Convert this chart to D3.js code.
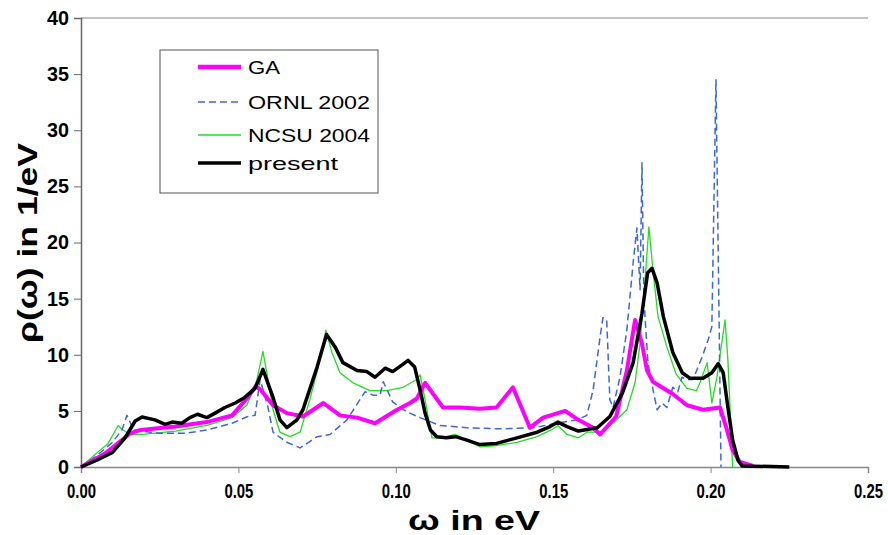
<!DOCTYPE html>
<html>
<head>
<meta charset="utf-8">
<script src="https://cdn.jsdelivr.net/npm/d3@7"></script>
<style>
  body { margin: 0; background: #fff; }
  svg { display: block; }
</style>
</head>
<body>
<div id="chart"></div>
<script>
// data: [omega in eV, rho in 1/eV]
const gaData = [[0,0],[0.0076,1.2],[0.013,2.4],[0.0156,3.0],[0.019,3.3],[0.030,3.6],[0.040,4.0],[0.048,4.6],[0.053,6.2],[0.0555,7.2],[0.057,6.9],[0.061,5.5],[0.0654,4.8],[0.0705,4.5],[0.077,5.7],[0.0823,4.6],[0.0877,4.4],[0.0934,3.9],[0.1004,5.1],[0.1045,5.7],[0.1067,6.1],[0.1093,7.5],[0.115,5.3],[0.1204,5.3],[0.1267,5.2],[0.132,5.3],[0.1372,7.1],[0.1426,3.5],[0.1468,4.4],[0.1538,5.0],[0.158,4.2],[0.1627,3.5],[0.1649,2.9],[0.170,4.5],[0.1734,8.6],[0.176,13.1],[0.1782,11.0],[0.1798,8.6],[0.1817,7.6],[0.188,6.5],[0.1925,5.5],[0.1976,5.1],[0.203,5.3],[0.2052,3.3],[0.207,1.5],[0.2093,0.45],[0.2135,0.1]];

const ornlData = [[0,0],[0.005,1.0],[0.010,2.2],[0.013,3.3],[0.0146,4.6],[0.0156,4.0],[0.0165,3.3],[0.0245,3.0],[0.033,3.0],[0.040,3.3],[0.048,3.9],[0.053,4.5],[0.0553,4.6],[0.0569,7.8],[0.0594,5.3],[0.061,3.1],[0.0654,2.2],[0.0696,1.7],[0.075,2.7],[0.0791,2.9],[0.0845,4.2],[0.0886,6.0],[0.0902,6.7],[0.0928,6.4],[0.095,6.4],[0.096,7.6],[0.0972,6.9],[0.099,5.8],[0.1036,4.9],[0.1077,4.4],[0.114,3.7],[0.1226,3.5],[0.1331,3.4],[0.1436,3.5],[0.1512,3.9],[0.1576,4.2],[0.1607,4.6],[0.1627,6.9],[0.1649,11.6],[0.1658,13.3],[0.167,13.1],[0.168,6.0],[0.169,5.3],[0.1712,8.0],[0.1734,12.2],[0.1754,18.2],[0.1766,21.3],[0.1776,15.8],[0.1782,27.1],[0.1788,15.0],[0.1801,9.3],[0.1817,6.9],[0.183,5.1],[0.1846,5.7],[0.1861,5.3],[0.188,7.1],[0.1896,6.7],[0.1909,8.0],[0.1925,7.8],[0.1944,7.8],[0.1973,9.8],[0.1992,11.3],[0.2004,12.5],[0.2017,34.5],[0.203,6.6],[0.2033,0]];

const ncsuData = [[0,0],[0.0044,1.1],[0.0086,2.1],[0.0118,3.7],[0.0133,3.3],[0.0156,2.9],[0.0194,2.9],[0.030,3.2],[0.040,3.7],[0.048,4.4],[0.0527,5.5],[0.0559,7.8],[0.0578,10.3],[0.0594,7.8],[0.061,5.1],[0.0632,3.1],[0.0664,2.7],[0.0696,3.1],[0.0727,6.0],[0.0759,9.5],[0.0778,12.2],[0.0797,10.2],[0.0823,8.4],[0.0864,7.5],[0.0918,6.8],[0.0972,6.8],[0.1023,7.1],[0.1067,7.8],[0.1077,8.2],[0.1093,6.0],[0.1115,2.6],[0.115,2.6],[0.1188,2.9],[0.1226,2.4],[0.1267,1.8],[0.132,1.9],[0.1385,2.2],[0.1449,2.7],[0.150,3.4],[0.1515,3.7],[0.1544,2.9],[0.158,2.6],[0.1607,3.1],[0.165,3.1],[0.169,3.9],[0.1734,5.1],[0.176,7.5],[0.1776,11.0],[0.1792,16.7],[0.1804,21.4],[0.1817,17.5],[0.1833,13.4],[0.1861,10.7],[0.189,8.3],[0.1925,7.0],[0.1955,6.8],[0.1966,7.5],[0.1989,9.3],[0.2004,5.7],[0.202,8.0],[0.2046,13.1],[0.2055,9.5],[0.2062,5.1],[0.207,0]];

const presentData = [[0,0],[0.005,0.6],[0.010,1.3],[0.014,2.6],[0.0172,4.1],[0.0194,4.45],[0.0235,4.2],[0.0267,3.8],[0.029,4.0],[0.032,3.9],[0.0346,4.4],[0.037,4.7],[0.040,4.4],[0.0426,4.8],[0.0457,5.3],[0.049,5.7],[0.052,6.2],[0.0553,7.0],[0.0578,8.7],[0.061,6.2],[0.0632,4.2],[0.0654,3.5],[0.0686,4.2],[0.0705,5.1],[0.075,8.9],[0.078,11.8],[0.0807,10.7],[0.0832,9.3],[0.0877,8.6],[0.0908,8.5],[0.0934,8.0],[0.0966,8.8],[0.099,8.5],[0.102,9.1],[0.1039,9.5],[0.106,8.9],[0.1077,6.9],[0.1093,4.8],[0.111,3.3],[0.113,2.7],[0.116,2.6],[0.119,2.7],[0.1226,2.4],[0.1267,2.0],[0.132,2.1],[0.1385,2.6],[0.1449,3.1],[0.149,3.6],[0.1515,4.0],[0.1544,3.6],[0.158,3.2],[0.164,3.5],[0.168,4.5],[0.172,6.6],[0.1754,9.3],[0.1782,13.7],[0.180,17.3],[0.1814,17.7],[0.183,16.4],[0.185,13.4],[0.188,10.2],[0.191,8.4],[0.1935,7.9],[0.1976,7.9],[0.2004,8.4],[0.2024,9.2],[0.204,8.4],[0.2055,5.3],[0.207,2.4],[0.2087,0.6],[0.210,0.1],[0.225,0]];

const xTicks = [0, 0.05, 0.10, 0.15, 0.20, 0.25];
const yTicks = [0, 5, 10, 15, 20, 25, 30, 35, 40];
const seriesNames = ["GA", "ORNL 2002", "NCSU 2004", "present"];

// set the dimensions and margins of the graph
const W = 888, H = 535;
const margin = {top: 18, right: 20, bottom: 68, left: 81};
const width = W - margin.left - margin.right,
      height = H - margin.top - margin.bottom;

const svg = d3.select("#chart")
  .append("svg")
  .attr("width", W)
  .attr("height", H);

const g = svg.append("g")
  .attr("transform", `translate(${margin.left},${margin.top})`);

const x = d3.scaleLinear().domain([0, 0.25]).range([0, width]);
const y = d3.scaleLinear().domain([0, 40]).range([height, 0]);

// plot area top border
g.append("line")
  .attr("x1", 0).attr("x2", width)
  .attr("y1", 0).attr("y2", 0)
  .attr("stroke", "#888").attr("stroke-width", 1);

// X axis
const xAxis = g.append("g")
  .attr("transform", `translate(0,${height})`)
  .call(d3.axisBottom(x).tickValues(xTicks).tickFormat(d3.format(".2f")).tickSizeOuter(0).tickSize(6));
xAxis.select(".domain").attr("stroke", "#888").attr("stroke-width", 1.5);
xAxis.selectAll(".tick line").attr("stroke", "#888");
xAxis.selectAll("text")
  .attr("y", 16)
  .attr("textLength", 29).attr("lengthAdjust", "spacingAndGlyphs")
  .style("font-family", "'Liberation Sans', Arial, sans-serif")
  .style("font-weight", "bold")
  .style("font-size", "21px")
  .attr("fill", "#000");

// Y axis
const yAxis = g.append("g")
  .call(d3.axisLeft(y).tickValues(yTicks).tickSizeOuter(0).tickSize(7));
yAxis.select(".domain").attr("stroke", "#666").attr("stroke-width", 1.5);
yAxis.selectAll(".tick line").attr("stroke", "#666");
yAxis.selectAll("text")
  .attr("x", -12)
  .attr("textLength", function(d) { return d < 10 ? 11 : 22; })
  .attr("lengthAdjust", "spacingAndGlyphs")
  .style("font-family", "'Liberation Sans', Arial, sans-serif")
  .style("font-weight", "bold")
  .style("font-size", "20px")
  .attr("fill", "#000");

// axis titles
svg.append("text")
  .attr("x", 474).attr("y", 530)
  .attr("text-anchor", "middle")
  .attr("textLength", 132).attr("lengthAdjust", "spacingAndGlyphs")
  .style("font-family", "'Liberation Sans', Arial, sans-serif")
  .style("font-weight", "bold")
  .style("font-size", "28px")
  .text("ω in eV");

svg.append("text")
  .attr("transform", "translate(37,243) rotate(-90)")
  .attr("text-anchor", "middle")
  .attr("textLength", 200).attr("lengthAdjust", "spacingAndGlyphs")
  .style("font-family", "'Liberation Sans', Arial, sans-serif")
  .style("font-weight", "bold")
  .style("font-size", "27px")
  .text("ρ(ω) in 1/eV");

// lines
const line = d3.line()
  .x(function(d) { return x(d[0]); })
  .y(function(d) { return y(d[1]); });

const styles = [
  {data: ncsuData, color: "#22dd22", w: 1.3, dash: null},
  {data: ornlData, color: "#3d66d8", w: 1.5, dash: "7,4"},
  {data: gaData, color: "#ff00ff", w: 4, dash: null},
  {data: presentData, color: "#000000", w: 3.5, dash: null}
];

styles.forEach(function(s) {
  g.append("path")
    .datum(s.data)
    .attr("fill", "none")
    .attr("stroke", s.color)
    .attr("stroke-width", s.w)
    .attr("stroke-linejoin", "round")
    .attr("stroke-dasharray", s.dash)
    .attr("d", line);
});

// legend
const legend = svg.append("g");
legend.append("rect")
  .attr("x", 160).attr("y", 50)
  .attr("width", 218).attr("height", 143)
  .attr("fill", "#fff")
  .attr("stroke", "#555").attr("stroke-width", 1);

const legendStyles = [
  {color: "#ff00ff", w: 4.5, dash: null, y: 67, len: 32},
  {color: "#3d66d8", w: 1.5, dash: "7,4", y: 102, len: 122},
  {color: "#22dd22", w: 1.3, dash: null, y: 135, len: 122},
  {color: "#000000", w: 3.5, dash: null, y: 163, len: 90}
];

seriesNames.forEach(function(name, i) {
  const s = legendStyles[i];
  legend.append("line")
    .attr("x1", 198).attr("x2", 241)
    .attr("y1", s.y).attr("y2", s.y)
    .attr("stroke", s.color)
    .attr("stroke-width", s.w)
    .attr("stroke-dasharray", s.dash);
  legend.append("text")
    .attr("x", 248).attr("y", s.y + 7)
    .attr("textLength", s.len).attr("lengthAdjust", "spacingAndGlyphs")
    .style("font-family", "'Liberation Sans', Arial, sans-serif")
    .style("font-size", "19px")
    .text(name);
});
</script>
</body>
</html>
